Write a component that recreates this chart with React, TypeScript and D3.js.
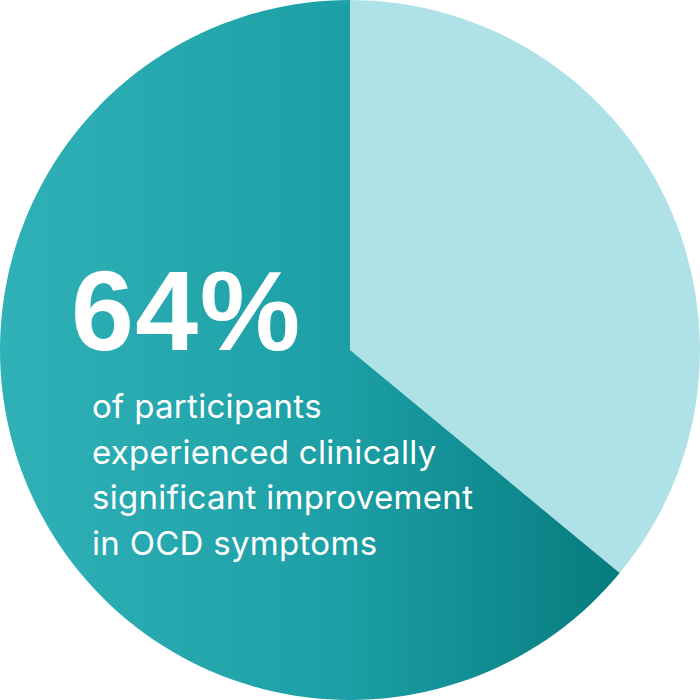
import { useEffect, useRef } from "react"
import * as d3 from "d3"

const labels = ["Other participants", "Clinically significant improvement"]
const values = [36, 64]
const headline = "64%"
const captionLines = [
  "of participants",
  "experienced clinically",
  "significant improvement",
  "in OCD symptoms",
]

export default function App() {
  const svgRef = useRef(null)

  useEffect(() => {
    if (!svgRef.current) return
    document.body.style.margin = "0"

    const svg = d3.select(svgRef.current)
    svg.selectAll("*").remove()

    const width = 700
    const height = 700
    const radius = 350

    // gradient for the big slice (left light teal -> right dark teal)
    // coordinates are relative to the pie centre because of the group transform
    const defs = svg.append("defs")
    const grad = defs
      .append("linearGradient")
      .attr("id", "tealGrad")
      .attr("gradientUnits", "userSpaceOnUse")
      .attr("x1", -radius)
      .attr("y1", 0)
      .attr("x2", 270)
      .attr("y2", 0)
    grad.append("stop").attr("offset", "0%").attr("stop-color", "#2fb1b7")
    grad.append("stop").attr("offset", "55%").attr("stop-color", "#1c9fa5")
    grad.append("stop").attr("offset", "100%").attr("stop-color", "#067c7f")

    const colors = ["#afe2e6", "url(#tealGrad)"]

    const pie = d3
      .pie<number>()
      .sort(null)
      .value((d) => d)
    const arc = d3.arc<d3.PieArcDatum<number>>().innerRadius(0).outerRadius(radius)

    const g = svg.append("g").attr("transform", `translate(${width / 2},${height / 2})`)

    g.selectAll("path")
      .data(pie(values))
      .enter()
      .append("path")
      .attr("d", arc)
      .attr("fill", (_, i) => colors[i])
      .append("title")
      .text((_, i) => labels[i])

    // headline
    svg
      .append("text")
      .attr("x", 71)
      .attr("y", 350)
      .attr("fill", "#fff")
      .attr("font-family", "'Liberation Sans', Arial, sans-serif")
      .attr("font-weight", 700)
      .attr("font-size", 113)
      .attr("letter-spacing", 1.5)
      .text(headline)

    // caption
    const cap = svg
      .append("text")
      .attr("x", 92)
      .attr("y", 418)
      .attr("fill", "#fff")
      .attr("font-family", "Inter, sans-serif")
      .attr("font-weight", 400)
      .attr("font-size", 33)
      .attr("letter-spacing", 0.3)

    captionLines.forEach((line, i) => {
      cap
        .append("tspan")
        .attr("x", 92)
        .attr("dy", i === 0 ? 0 : 45.7)
        .text(line)
    })

    svg.attr("width", width).attr("height", height).attr("viewBox", [0, 0, width, height])
  }, [])

  return (
    <div>
      <svg ref={svgRef} style={{ display: "block" }}></svg>
    </div>
  )
}
